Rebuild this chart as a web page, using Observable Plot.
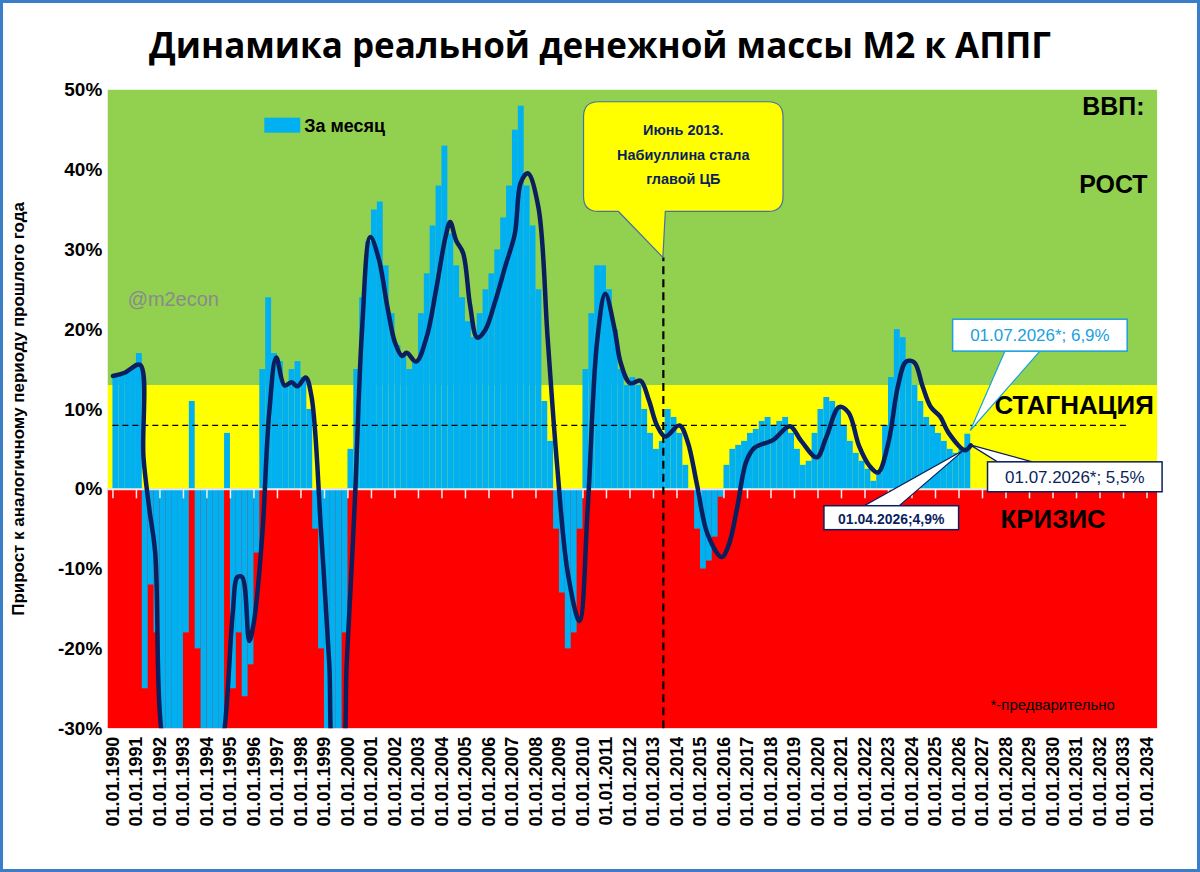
<!DOCTYPE html>
<html><head><meta charset="utf-8">
<script src="https://cdn.jsdelivr.net/npm/d3@7"></script>
<script src="https://cdn.jsdelivr.net/npm/@observablehq/plot@0.6"></script>
<style>
body{margin:0;background:#fff;font-family:"Liberation Sans",Arial,sans-serif}
#wrap{position:relative;width:1194px;height:866px;border:3px solid #3a7ec8;overflow:hidden}
#title{position:absolute;top:18px;left:0;width:1194px;text-align:center;font-weight:bold;font-size:35px;font-family:"Open Sans","Liberation Sans",sans-serif}
#chart{position:absolute;top:-3px;left:-3px}
</style></head><body>
<div id="wrap"><div id="chart"></div><div id="title">Динамика реальной денежной массы М2 к АППГ</div></div>
<script>
// Quarterly bar values ("За месяц"), start 1990.0, step 0.25 yr
const barStart = 1990;
const barValues = [
 14.3,14.5,14.8,15.2, 17,-25,-12,-18,
 -30,-30,-30,-30, -18,11,-20,-30,
 -30,-30,-30,7, -25,-18,-26,-22,
 -8,15,24,17, 16,13,15,16, 14,10,-5,-20,
 -30,-30,-30,-18, 5,15,24,31, 35,36,28,22,
 18,17,15,16, 22,27,33,38, 43,32,28,24,
 21,19,22,25, 27,30,34,38, 45,48,38,33,
 25,11,6,-5, -13,-20,-18,-5, 15,22,28,28,
 25,20,15,13, 14,13,10,7, 5,6,10,9,
 7,3,0,-5, -10,-9,-6,-1, 3,5,5.5,6,
 7,7.5,8.5,9, 8,8.5,9,7, 5,3,3.5,7,
 10,11.5,11,10, 8,6,4.5,3.5, 2.5,1,2,8,
 14,20,19,16, 13,11,9,8, 7,6,5,4.5,
 5,6.9
];
// Smoothed line keypoints (year, %)
const lineYears = [1990,1990.5,1991.15,1991.3,1991.55,1991.8,1992.05,1992.6,1993.5,1994.3,1994.75,1995.1,1995.3,1995.5,1995.8,1996.0,1996.35,1996.65,1996.95,1997.3,1997.6,1997.85,1998.2,1998.45,1998.85,1999.2,1999.45,1999.7,1999.95,2000.3,2000.6,2000.95,2001.3,2001.7,2002.0,2002.3,2002.5,2002.9,2003.35,2003.75,2004.15,2004.35,2004.6,2004.9,2005.2,2005.5,2005.85,2006.25,2006.7,2007.1,2007.35,2007.65,2008.1,2008.5,2008.9,2009.35,2009.85,2010.2,2010.6,2010.95,2011.35,2011.6,2012.0,2012.45,2012.8,2013.15,2013.5,2014.1,2014.45,2014.85,2015.3,2015.9,2016.2,2016.55,2016.95,2017.3,2018.1,2018.8,2019.3,2019.95,2020.35,2020.9,2021.3,2021.75,2022.2,2022.55,2023.0,2023.4,2023.75,2024.1,2024.45,2024.8,2025.2,2025.55,2026.25,2026.5];
const lineValues = [14.2,14.6,15.6,4,-2.5,-8,-30,-38,-42,-38,-30,-15.4,-11,-11,-19,-16.6,-5.9,9.6,16.5,13,13.4,12.9,14,11.6,-5,-21.6,-34,-34,-21.6,-1,20,31.6,29,22.5,18.4,16.7,17.1,16,19.1,25,31.6,33.5,31.2,29.6,23,19,20,23.4,28,32,38.4,39.6,35.4,18.8,3,-10.4,-16.5,-2.5,18.5,24.5,20,15.9,13.3,13.6,11.2,8,6.6,8,6,0.6,-5.6,-8.5,-7,-2.5,3.5,5.2,6.2,7.9,6,4,6.5,10.3,9.6,5.4,2.9,2.1,5.9,12.9,16,15.9,12.9,10.3,9.1,7.1,4.9,5.5];
const yTicks = [-30,-20,-10,0,10,20,30,40,50];
const xTickYears = d3.range(1990, 2035);

const bars = barValues.map((v,i)=>({x1:barStart+i*0.25, x2:barStart+(i+1)*0.25, v}));
const line = lineYears.map((t,i)=>({t, v:lineValues[i]}));
const zones = [{y1:-30,y2:0,c:"#FF0000"},{y1:0,y2:13,c:"#FFFF00"},{y1:13,y2:50,c:"#92D050"}];
const X0 = 1989.8, X1 = 2034.45;

const plot = Plot.plot({
  width:1200, height:872,
  marginLeft:108, marginRight:40, marginTop:90, marginBottom:142,
  x:{domain:[X0,X1]},
  y:{domain:[-30,50]},
  style:{fontFamily:"Liberation Sans, Arial, sans-serif"},
  marks:[
    Plot.rect(zones,{x1:X0,x2:X1,y1:"y1",y2:"y2",fill:"c"}),
    Plot.rectY(bars,{x1:"x1",x2:"x2",y:"v",fill:"#00B0F0",clip:true}),
    Plot.ruleY([0],{stroke:"#e8e8e8",strokeWidth:2}),
    Plot.ruleX(xTickYears,{x:d=>d,y1:0,y2:-1.2,stroke:"#f0f0f0",strokeWidth:1.5}),
    Plot.ruleY([8],{x1:1990,x2:2033.2,stroke:"#000",strokeDasharray:"6,4",strokeWidth:1.3}),
    Plot.ruleX([2013.42],{y1:-30,y2:29,stroke:"#000",strokeDasharray:"8,5",strokeWidth:2.2}),
    Plot.line(line,{x:"t",y:"v",curve:"catmull-rom",stroke:"#0B1F5E",strokeWidth:4.5,clip:true}),
    Plot.axisY({ticks:yTicks,tickSize:0,tickFormat:d=>d+"%",fontSize:19,fontWeight:"bold",label:null,tickPadding:6}),
    Plot.axisX({ticks:xTickYears,tickSize:0,tickFormat:d=>"01.01."+d,tickRotate:-90,fontSize:18,fontWeight:"bold",label:null,tickPadding:8})
  ]
});
document.getElementById("chart").appendChild(plot);

const sx = plot.scale("x"), sy = plot.scale("y");
const X = t=>sx.apply(t), Y = v=>sy.apply(v);
const svg = d3.select(plot);
const g = svg.append("g").attr("font-family","Liberation Sans, Arial, sans-serif").attr("font-weight","bold").attr("text-anchor","start").attr("fill","#000");
g.append("text").attr("transform","translate(24,410) rotate(-90)").attr("text-anchor","middle").attr("font-size",17).text("Прирост к аналогичному периоду прошлого года");
// legend
g.append("rect").attr("x",265).attr("y",118).attr("width",36).attr("height",15).attr("fill","#00B0F0");
g.append("text").attr("x",305).attr("y",132).attr("font-size",18).text("За месяц");
g.append("text").attr("x",128).attr("y",307).attr("font-size",20).attr("font-weight","normal").attr("fill","#8a8a8a").text("@m2econ");
// zone labels
g.append("text").attr("x",1085).attr("y",115).attr("font-size",25).text("ВВП:");
g.append("text").attr("x",1082).attr("y",193).attr("font-size",25).text("РОСТ");
g.append("text").attr("x",997).attr("y",415).attr("font-size",26).text("СТАГНАЦИЯ");
g.append("text").attr("x",1003).attr("y",529).attr("font-size",26).text("КРИЗИС");
g.append("text").attr("x",993).attr("y",712).attr("font-size",15).attr("font-weight","normal").text("*-предварительно");
// callout
const cx = X(2013.42), cy = Y(29);
g.append("path").attr("d",`M600,102 h170 q15,0 15,15 v80 q0,15 -15,15 h-103 L${cx},${cy} L620,212 h-20 q-15,0 -15,-15 v-80 q0,-15 15,-15 z`)
 .attr("fill","#FFFF00").attr("stroke","#4a6fa5").attr("stroke-width",1.2);
[["Июнь 2013.",135],["Набиуллина стала",160],["главой ЦБ",184]].forEach(([s,y])=>
 g.append("text").attr("x",685).attr("y",y).attr("text-anchor","middle").attr("font-size",14.5).attr("fill","#0B1F5E").text(s));
// value labels
function box(x,y,w,h,tx,ty,text,color,stroke){
  g.append("path").attr("d",`M${tx},${ty} L${x+ (tx<x? 10: w*0.3)},${y+(ty>y+h? h: 0)} L${x+(tx<x?45:w*0.3+35)},${y+(ty>y+h? h: 0)} Z`).attr("fill","#fff").attr("stroke",stroke).attr("stroke-width",1.2);
  g.append("rect").attr("x",x).attr("y",y).attr("width",w).attr("height",h).attr("fill","#fff").attr("stroke",stroke).attr("stroke-width",1.5);
  g.append("text").attr("x",x+w/2).attr("y",y+h/2+6).attr("text-anchor","middle").attr("font-size",h>26?17:14).attr("font-weight",h>26?"normal":"bold").attr("fill",color).text(text);
}
box(955,320,175,32,X(2026.5),Y(7.3),"01.07.2026*; 6,9%","#1AA0E0","#1AA0E0");
box(990,463,175,30,X(2026.5),Y(5.5),"01.07.2026*; 5,5%","#0B1F5E","#0B1F5E");
box(826,507,135,24,X(2026.25),Y(4.9),"01.04.2026;4,9%","#0B1F5E","#0B1F5E");
</script></body></html>
